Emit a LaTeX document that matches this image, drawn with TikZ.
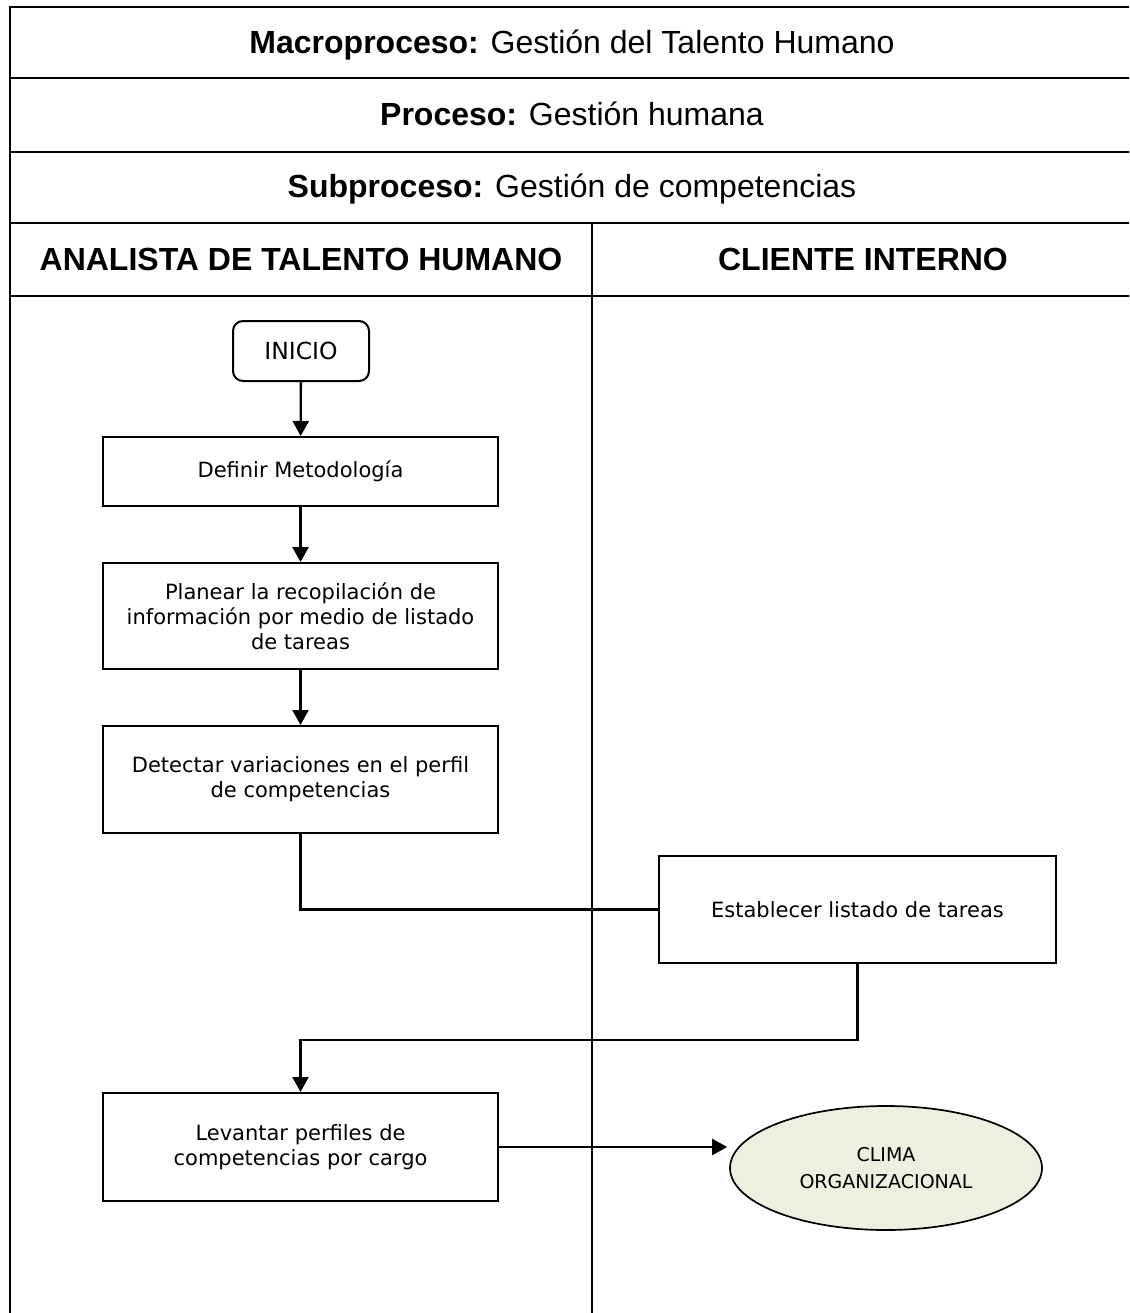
\documentclass[tikz,border=0pt]{standalone}
\usepackage{fontspec}
\setmainfont{Liberation Sans}
\newfontfamily\boxfont{DejaVu Sans}
\usetikzlibrary{arrows.meta,shapes.geometric}
\definecolor{climafill}{RGB}{235,241,222}

\begin{document}
\begin{tikzpicture}[x=1pt,y=-1pt,
  frame/.style={line width=2.7pt},
  titletext/.style={anchor=base,font=\fontsize{32}{38}\selectfont},
  lanetext/.style={anchor=base,font=\fontsize{32}{38}\selectfont\bfseries},
  stepbox/.style={draw,line width=2pt,inner sep=0pt,align=center,
    minimum width=395pt,font=\boxfont\fontsize{21}{25}\selectfont},
  startbox/.style={draw,line width=2pt,rounded corners=10pt,inner sep=0pt,
    minimum width=136pt,minimum height=60pt,font=\boxfont\fontsize{23.5}{28}\selectfont},
  endnode/.style={ellipse,draw,line width=1.7pt,fill=climafill,inner sep=0pt,
    minimum width=312pt,minimum height=124pt,align=center,
    font=\boxfont\fontsize{19}{27}\selectfont},
  conn/.style={line width=2.3pt},
  arr/.style={conn,-{Triangle[length=15pt,width=16pt]}}
]
\clip (0,0) rectangle (1129,1313);

% table frame
\draw[frame] (10,1320) -- (10,7) -- (1140,7);
\draw[frame] (10,78) -- (1140,78);
\draw[frame] (10,152) -- (1140,152);
\draw[frame] (10,223) -- (1140,223);
\draw[frame] (10,296) -- (1140,296);
\draw[frame] (592,223) -- (592,1320);

% header texts
\node[titletext] (macro) at (572,54) {\textbf{Macroproceso:} Gestión del Talento Humano};
\node[titletext] (proc) at (572,126) {\textbf{Proceso:} Gestión humana};
\node[titletext] (subp) at (572,198) {\textbf{Subproceso:} Gestión de competencias};
\node[lanetext] (lane1) at (301,271) {ANALISTA DE TALENTO HUMANO};
\node[lanetext] (lane2) at (863,271) {CLIENTE INTERNO};

% flow nodes
\node[startbox] (inicio) at (301,351) {INICIO};
\node[stepbox,minimum height=69pt] (def) at (300.5,471.5) {Definir Metodología};
\node[stepbox,minimum height=106pt] (plan) at (300.5,616) {Planear la recopilación de\\información por medio de listado\\de tareas};
\node[stepbox,minimum height=107pt] (det) at (300.5,779.5) {Detectar variaciones en el perfil\\de competencias};
\node[stepbox,minimum width=397pt,minimum height=107pt] (est) at (857.5,909.5) {Establecer listado de tareas};
\node[stepbox,minimum height=108pt] (lev) at (300.5,1147) {Levantar perfiles de\\competencias por cargo};
\node[endnode] (clima) at (886,1168) {CLIMA\\ORGANIZACIONAL};

% connectors
\coordinate (ret) at (600,1040);
\draw[arr] (inicio) -- (def);
\draw[arr] (def) -- (plan);
\draw[arr] (plan) -- (det);
\draw[conn] (det.south) |- (est.west);
\draw[arr] (est.south) -- (est.south |- ret) -| (lev.north);
\draw[arr] (lev.east) -- ([xshift=-2pt]lev.east -| clima.west);
\end{tikzpicture}
\end{document}
